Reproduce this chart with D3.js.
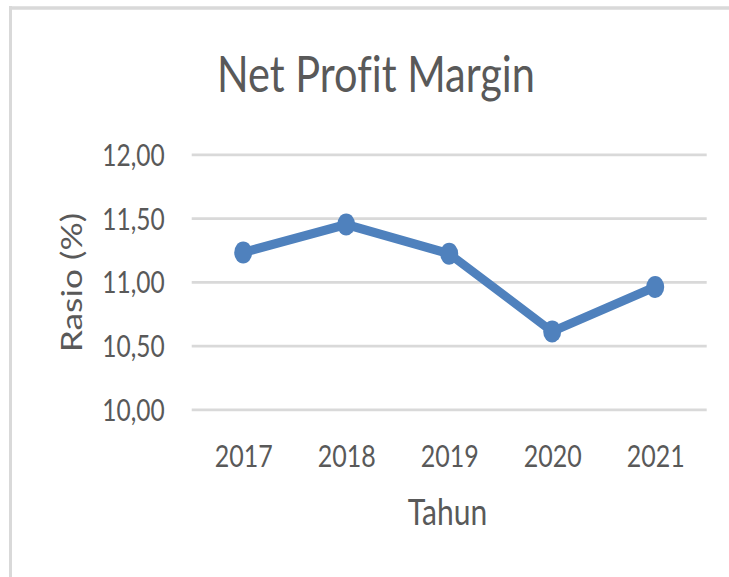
<!DOCTYPE html>
<html>
<head>
<meta charset="utf-8">
<script src="https://cdn.jsdelivr.net/npm/d3@7"></script>
<style>
  html, body { margin: 0; padding: 0; background: #fff; }
  svg { display: block; }
  text { font-family: Lato, "Open Sans", sans-serif; fill: #595959; font-variant-ligatures: none; }
</style>
</head>
<body>
<svg id="chart" width="729" height="577"></svg>
<script>
//

const years = ['2017', '2018', '2019', '2020', '2021']
const npm = [11.23, 11.45, 11.22, 10.61, 10.96]
const yTicks = [10, 10.5, 11, 11.5, 12]

const title = 'Net Profit Margin'
const xTitle = 'Tahun'
const yTitle = 'Rasio (%)'

// the picture is stretched vertically, so draw in a squashed frame and scale it back up
const stretch = 1.22
const width = 729
const height = 577 / stretch

const svg = d3.select('#chart')
const root = svg.append('g')
    .attr('transform', `scale(1, ${stretch})`)

// frame of the pasted chart
root.append('line')
    .attr('x1', 10.5).attr('x2', 10.5)
    .attr('y1', 5).attr('y2', height)
    .attr('stroke', '#d9d9d9')
    .attr('stroke-width', 3)

root.append('line')
    .attr('x1', 9).attr('x2', width)
    .attr('y1', 6.6).attr('y2', 6.6)
    .attr('stroke', '#d9d9d9')
    .attr('stroke-width', 2.8)

const x = d3.scalePoint()
    .domain(years)
    .range([191.7, 706.7])
    .padding(0.5)

const y = d3.scaleLinear()
    .domain([10, 12])
    .range([335.5, 126.5])

const fmt = (d) => d.toFixed(2).replace('.', ',')

// gridlines + y labels
const yAxis = d3.axisLeft(y)
    .tickValues(yTicks)
    .tickFormat(fmt)
    .tickSize(-(706.7 - 191.7))
    .tickPadding(27)

const gY = root.append('g')
    .attr('transform', 'translate(191.7,0)')
    .call(yAxis)

gY.select('.domain').remove()
gY.selectAll('line')
    .attr('stroke', '#d9d9d9')
    .attr('stroke-width', 2.2)
gY.selectAll('text')
    .attr('fill', '#595959')
    .attr('font-family', 'Lato, "Open Sans", sans-serif')
    .attr('font-size', 24.5)
    .attr('dy', null)
    .attr('y', 9)

// x labels
const xAxis = d3.axisBottom(x)
    .tickSize(0)
    .tickPadding(0)

const gX = root.append('g')
    .attr('transform', 'translate(0,382.5)')
    .call(xAxis)

gX.select('.domain').remove()
gX.selectAll('text')
    .attr('fill', '#595959')
    .attr('font-family', 'Lato, "Open Sans", sans-serif')
    .attr('font-size', 25)
    .attr('dy', null)
    .attr('y', 0)

// series
const line = d3.line()
    .x((d, i) => x(years[i]))
    .y((d) => y(d))

root.append('path')
    .datum(npm)
    .attr('d', line)
    .attr('fill', 'none')
    .attr('stroke', '#4f81bd')
    .attr('stroke-width', 7.5)
    .attr('stroke-linejoin', 'round')

root.selectAll('circle.pt')
    .data(npm)
    .enter()
    .append('circle')
    .attr('class', 'pt')
    .attr('cx', (d, i) => x(years[i]))
    .attr('cy', (d) => y(d))
    .attr('r', 9)
    .attr('fill', '#4f81bd')

// titles
root.append('text')
    .attr('x', 376)
    .attr('y', 75.2)
    .attr('text-anchor', 'middle')
    .attr('font-size', 41.5)
    .text(title)

root.append('text')
    .attr('x', 447.5)
    .attr('y', 430.3)
    .attr('text-anchor', 'middle')
    .attr('font-size', 30)
    .text(xTitle)

root.append('text')
    .attr('transform', 'translate(81.5,231.6) rotate(-90)')
    .attr('text-anchor', 'middle')
    .attr('font-size', 29)
    .text(yTitle)

//
</script>
</body>
</html>
